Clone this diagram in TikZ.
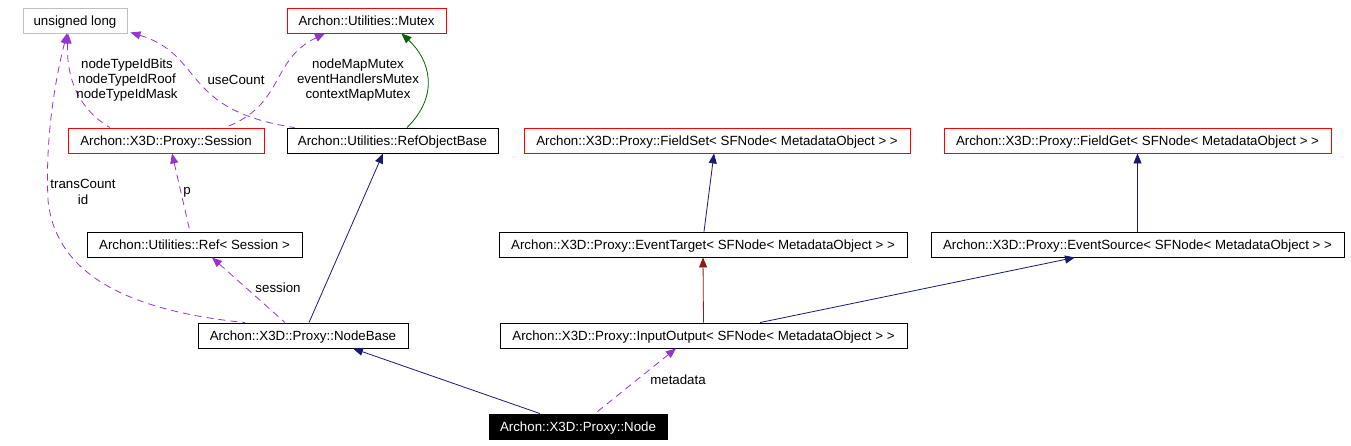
\documentclass[tikz,border=0pt]{standalone}
\usepackage{fontspec}
\setmainfont{Liberation Sans}
\usetikzlibrary{arrows.meta}
\definecolor{navyc}{HTML}{191970}
\definecolor{purpc}{HTML}{9A32CD}
\definecolor{redc}{HTML}{8B1A1A}
\definecolor{greenc}{HTML}{006400}
\definecolor{boxred}{HTML}{FF0000}
\definecolor{boxgrey}{HTML}{BFBFBF}
\tikzset{
  cls/.style={draw=black, fill=white, line width=0.9pt, rectangle, minimum height=25pt, inner sep=0pt, text height=9.6pt, text depth=0pt, font=\fontsize{13.3}{15}\selectfont, text=black},
  redbox/.style={cls, draw=boxred},
  greybox/.style={cls, draw=boxgrey},
  blackbox/.style={cls, fill=black, text=white},
  tip/.style={{Triangle[length=10pt,width=8pt]}-},
  inhnavy/.style={tip, draw=navyc, line width=0.8pt},
  inhred/.style={tip, draw=redc, line width=0.8pt},
  inhgreen/.style={tip, draw=greenc, line width=0.8pt},
  usage/.style={tip, draw=purpc, line width=0.8pt, dash pattern=on 7pt off 5pt},
  lbl/.style={font=\fontsize{13.3}{15.3}\selectfont, align=center, inner sep=0pt}
}
\begin{document}
\begin{tikzpicture}[x=1pt,y=-1pt]
\useasboundingbox (0,0) rectangle (1351,445);
\node[greybox, minimum width=104pt] (ul) at (75,20.5) {unsigned long};
\node[redbox, minimum width=159pt] (mutex) at (366.5,20.5) {Archon::Utilities::Mutex};
\node[redbox, minimum width=196pt] (session) at (166,140.5) {Archon::X3D::Proxy::Session};
\node[cls, minimum width=211pt] (rob) at (392.5,140.5) {Archon::Utilities::RefObjectBase};
\node[redbox, minimum width=386pt] (fset) at (717,140.5) {Archon::X3D::Proxy::FieldSet< SFNode< MetadataObject > >};
\node[redbox, minimum width=387pt] (fget) at (1137.5,140.5) {Archon::X3D::Proxy::FieldGet< SFNode< MetadataObject > >};
\node[cls, minimum width=215pt] (ref) at (194.5,244.5) {Archon::Utilities::Ref< Session >};
\node[cls, minimum width=408pt] (etarget) at (703,244.5) {Archon::X3D::Proxy::EventTarget< SFNode< MetadataObject > >};
\node[cls, minimum width=413pt] (esource) at (1137.5,244.5) {Archon::X3D::Proxy::EventSource< SFNode< MetadataObject > >};
\node[cls, minimum width=210pt] (nbase) at (303,335.5) {Archon::X3D::Proxy::NodeBase};
\node[cls, minimum width=407pt] (io) at (703.5,335.5) {Archon::X3D::Proxy::InputOutput< SFNode< MetadataObject > >};
\node[blackbox, minimum width=178pt] (node) at (578,426.5) {Archon::X3D::Proxy::Node};

% connectors
\draw[inhnavy] ([xshift=50pt]nbase.south) -- ([xshift=-38pt]node.north);
\draw[usage] ([xshift=-27.5pt]io.south) -- ([xshift=17pt]node.north);
\draw[inhred] (etarget.south) -- (io.north);
\draw[inhnavy] ([xshift=-62.5pt]esource.south) -- ([xshift=56.5pt]io.north);
\draw[inhnavy] ([xshift=-3pt]fset.south) -- ([xshift=1pt]etarget.north);
\draw[inhnavy] (fget.south) -- (esource.north);
\draw[inhnavy] ([xshift=-9.5pt]rob.south) -- ([xshift=6pt]nbase.north);
\draw[usage] ([xshift=17.5pt]ref.south) -- ([xshift=-18pt]nbase.north);
\draw[usage] ([xshift=-8pt]ul.south) .. controls (55,80) and (45,140) .. (48,200) .. controls (55,270) and (120,310) .. ([xshift=-58pt]nbase.north);
\draw[usage] ([xshift=6pt]session.south) -- ([xshift=-4.5pt]ref.north);
\draw[usage] ([xshift=-7pt]ul.south) .. controls (66,80) and (80,110) .. ([xshift=-56pt]session.north);
\draw[usage] ([xshift=3pt,yshift=1pt]ul.south east) .. controls (205,55) and (180,110) .. ([xshift=-98pt]rob.north);
\draw[usage] ([xshift=-41.5pt]mutex.south) .. controls (270,60) and (285,105) .. ([xshift=59pt]session.north);
\draw[inhgreen] ([xshift=35pt]mutex.south) .. controls (430,60) and (440,95) .. ([xshift=14.5pt]rob.north);

% labels
\node[lbl] (l1) at (127,80) {nodeTypeIdBits\\nodeTypeIdRoof\\nodeTypeIdMask};
\node[lbl] (l2) at (236,80) {useCount};
\node[lbl] (l3) at (358,80) {nodeMapMutex\\eventHandlersMutex\\contextMapMutex};
\node[lbl] (l4) at (83,192) {transCount\\id};
\node[lbl] (l5) at (187,192) {p};
\node[lbl] (l6) at (278,288) {session};
\node[lbl] (l7) at (678,380) {metadata};
\end{tikzpicture}
\end{document}
